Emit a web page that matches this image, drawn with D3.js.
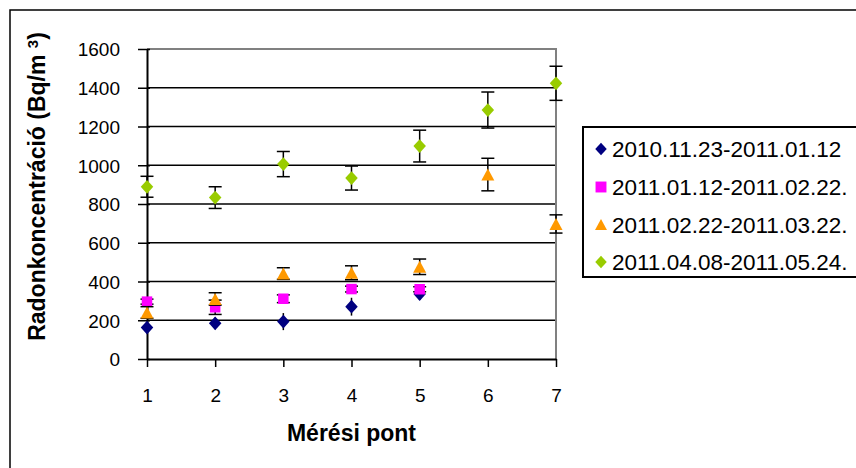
<!DOCTYPE html>
<html><head><meta charset="utf-8">
<script src="https://cdn.jsdelivr.net/npm/d3@7"></script>
<style>
html,body{margin:0;padding:0;background:#fff;}
svg{display:block;font-family:"Liberation Sans",Arial,sans-serif;}
</style></head>
<body>
<svg id="chart" width="856" height="468"></svg>
<script>
// ---- data ----
const points = [1, 2, 3, 4, 5, 6, 7];
const yTicks = [0, 200, 400, 600, 800, 1000, 1200, 1400, 1600];
const seriesNames = ["2010.11.23-2011.01.12", "2011.01.12-2011.02.22.", "2011.02.22-2011.03.22.", "2011.04.08-2011.05.24."];
const navyValues = [162, 184, 193, 270, 335];
const navyErrors = [20, 30, 44, 46, 30];
const pinkValues = [296, 267, 311, 361, 360];
const pinkErrors = [13, 37, 20, 15, 13];
const orangeValues = [240, 310, 441, 445, 476, 952, 697];
const orangeErrors = [30, 32, 30, 36, 40, 84, 47];
const greenValues = [889, 833, 1006, 934, 1099, 1285, 1423];
const greenErrors = [54, 56, 65, 62, 82, 93, 88];
const xTitle = "Mérési pont";

const series = [
  {name: seriesNames[0], values: navyValues, errors: navyErrors, color: "#000080", shape: "diamond", caps: false},
  {name: seriesNames[1], values: pinkValues, errors: pinkErrors, color: "#FF00FF", shape: "square", caps: true},
  {name: seriesNames[2], values: orangeValues, errors: orangeErrors, color: "#FF9900", shape: "triangle", caps: true},
  {name: seriesNames[3], values: greenValues, errors: greenErrors, color: "#99CC00", shape: "diamond", caps: true}
];

const svg = d3.select("#chart");
const L = 147, R = 556, T = 49, B = 359;
const x = d3.scaleLinear().domain([1, 7]).range([L, R]);
const y = d3.scaleLinear().domain([0, 1600]).range([B, T]);

// outer chart border
svg.append("rect").attr("x", 10).attr("y", 10).attr("width", 900).attr("height", 500)
  .attr("fill", "#fff").attr("stroke", "#000").attr("stroke-width", 1.5);

// gridlines
svg.append("g").selectAll("line").data(yTicks.filter(d => d > 0 && d < 1600)).join("line")
  .attr("x1", L).attr("x2", R).attr("y1", d => y(d)).attr("y2", d => y(d))
  .attr("stroke", "#000").attr("stroke-width", 1.5);
// plot border top / right (gray)
svg.append("path").attr("d", `M${L},${y(1600)}H${R}V${B}`)
  .attr("fill", "none").attr("stroke", "#808080").attr("stroke-width", 2);

// y axis
const yAxis = svg.append("g").attr("transform", `translate(${L},0)`)
  .call(d3.axisLeft(y).tickValues(yTicks).tickSize(9).tickSizeOuter(0).tickFormat(d3.format("d")));
yAxis.select(".domain").attr("stroke", "#000").attr("stroke-width", 2);
yAxis.selectAll(".tick line").attr("x1", 3).attr("stroke", "#000").attr("stroke-width", 1.5);
yAxis.selectAll(".tick text").attr("x", -27).attr("dy", "0.36em")
  .attr("font-size", 19).attr("fill", "#000");

// x axis
const xAxis = svg.append("g").attr("transform", `translate(0,${B})`)
  .call(d3.axisBottom(x).tickValues(points).tickSize(8).tickSizeOuter(0).tickFormat(d3.format("d")));
xAxis.select(".domain").attr("stroke", "#000").attr("stroke-width", 2);
xAxis.selectAll(".tick line").attr("stroke", "#000").attr("stroke-width", 1.5);
xAxis.selectAll(".tick text").attr("y", 43).attr("dy", 0)
  .attr("font-size", 19).attr("fill", "#000");

// axis titles
svg.append("text").attr("x", (L + R) / 2).attr("y", 441).attr("text-anchor", "middle")
  .attr("font-size", 23).attr("font-weight", "bold").text(xTitle);
const yt = svg.append("text").attr("transform", "translate(45,186.5) rotate(-90)")
  .attr("text-anchor", "middle").attr("font-size", 23).attr("font-weight", "bold");
yt.append("tspan").text("Radonkoncentráció (Bq/m ");
yt.append("tspan").attr("dy", "-0.45em").attr("font-size", 15).text("3");
yt.append("tspan").attr("dy", "0.3em").text(")");

function markerPath(shape, s) {
  if (shape === "diamond") return `M0,${-s * 0.55}L${s * 0.5},0L0,${s * 0.55}L${-s * 0.5},0Z`;
  if (shape === "square") return `M${-s * 0.42},${-s * 0.42}H${s * 0.42}V${s * 0.42}H${-s * 0.42}Z`;
  return `M0,${-s * 0.48}L${s * 0.52},${s * 0.48}H${-s * 0.52}Z`;
}

series.forEach(s => {
  const g = svg.append("g");
  const data = s.values.map((v, i) => ({x: points[i], v, e: s.errors[i]}));
  // error bars
  g.selectAll("line.eb").data(data).join("line").attr("class", "eb")
    .attr("x1", d => x(d.x)).attr("x2", d => x(d.x))
    .attr("y1", d => y(d.v - d.e)).attr("y2", d => y(d.v + d.e))
    .attr("stroke", "#000").attr("stroke-width", 1.5);
  if (s.caps) {
    ["lo", "hi"].forEach(k => {
      g.selectAll("line.cap" + k).data(data).join("line").attr("class", "cap" + k)
        .attr("x1", d => x(d.x) - 6.5).attr("x2", d => x(d.x) + 6.5)
        .attr("y1", d => y(k === "lo" ? d.v - d.e : d.v + d.e))
        .attr("y2", d => y(k === "lo" ? d.v - d.e : d.v + d.e))
        .attr("stroke", "#000").attr("stroke-width", 1.5);
    });
  }
  g.selectAll("path.m").data(data).join("path").attr("class", "m")
    .attr("transform", d => `translate(${x(d.x)},${y(d.v)})`)
    .attr("d", markerPath(s.shape, 12.5)).attr("fill", s.color);
});

// legend
const lg = svg.append("g");
lg.append("rect").attr("x", 583).attr("y", 127).attr("width", 300).attr("height", 150)
  .attr("fill", "#fff").attr("stroke", "#000").attr("stroke-width", 2);
const rowY = [149, 187, 224.5, 262];
series.forEach((s, i) => {
  lg.append("path").attr("transform", `translate(601,${rowY[i]})`)
    .attr("d", markerPath(s.shape, s.shape === "square" ? 13 : 11.5)).attr("fill", s.color);
  lg.append("text").attr("x", 612).attr("y", rowY[i]).attr("dy", "0.36em")
    .attr("font-size", 22.5).attr("fill", "#000").text(s.name);
});
</script>
</body></html>
